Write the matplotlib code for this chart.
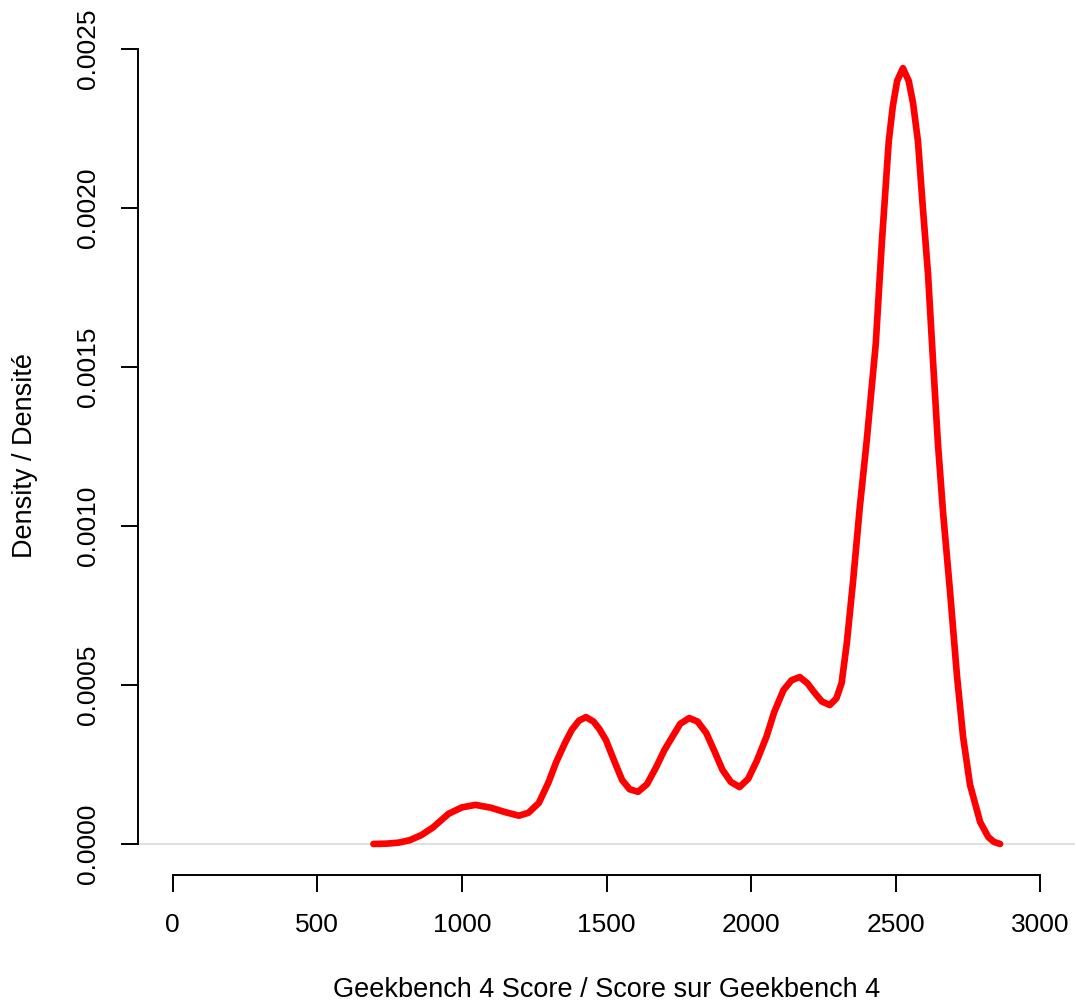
import numpy as np
import matplotlib.pyplot as plt

plt.rcParams["font.family"] = ["Liberation Sans", "DejaVu Sans"]

# density curve (score, density)
score = [694, 740, 780, 820, 860, 900, 954, 1000, 1047, 1100, 1150, 1197, 1230,
         1266, 1300, 1325, 1355, 1380, 1405, 1429, 1455, 1475, 1498, 1525, 1554,
         1580, 1609, 1640, 1672, 1700, 1727, 1755, 1786, 1815, 1845, 1875, 1901,
         1930, 1960, 1990, 2020, 2053, 2080, 2112, 2140, 2168, 2195, 2220, 2245,
         2272, 2295, 2313, 2331, 2352, 2376, 2400, 2431, 2452, 2476, 2490, 2505,
         2525, 2545, 2560, 2577, 2594, 2612, 2629, 2646, 2664, 2688, 2712, 2733,
         2757, 2792, 2820, 2840, 2861]
density = [0.0, 0.000001, 0.000004, 0.000012, 0.000028, 0.000052, 0.000095,
           0.000115, 0.000123, 0.000114, 0.0001, 0.000089, 0.000098,
           0.000129, 0.000195, 0.000255, 0.000315, 0.000359, 0.000388, 0.000399,
           0.000385, 0.000362, 0.000327, 0.000265, 0.000201,
           0.000172, 0.000164, 0.000188, 0.000242, 0.000295, 0.000336, 0.000378,
           0.000396, 0.000385, 0.000349, 0.000288, 0.000233,
           0.000195, 0.000179, 0.000205, 0.000262, 0.000337, 0.000415, 0.000484,
           0.000515, 0.000525, 0.000505, 0.000475, 0.000448,
           0.000437, 0.000458, 0.000506, 0.000632, 0.000821, 0.00106, 0.00127,
           0.001572, 0.00189, 0.00221, 0.00232, 0.00240,
           0.00244, 0.00240, 0.00233, 0.00221, 0.0020, 0.00179, 0.00152, 0.00126,
           0.00104, 0.000793, 0.000528, 0.000337,
           0.000186, 0.000069, 0.000022, 0.0000063, 0.0]

x_ticks = [0, 500, 1000, 1500, 2000, 2500, 3000]
y_ticks = [0.0, 0.0005, 0.0010, 0.0015, 0.0020, 0.0025]
y_tick_labels = ["0.0000", "0.0005", "0.0010", "0.0015", "0.0020", "0.0025"]

W, H = 1076, 1007
fig = plt.figure(figsize=(W / 100, H / 100), dpi=100)
ax = fig.add_axes([138 / W, (H - 875) / H, (1075 - 138) / W, (875 - 37) / H])

ax.axhline(0, color="#d9d9d9", linewidth=1.2, zorder=1)
ax.plot(score, density, color="#ff0000", linewidth=4.8, solid_capstyle="round",
        solid_joinstyle="round", zorder=3)

ax.set_xlim(-120, 3120)
ax.set_ylim(-0.0000976, 0.002538)

for side in ["top", "right"]:
    ax.spines[side].set_visible(False)
ax.spines["bottom"].set_bounds(0, 3000)
ax.spines["left"].set_bounds(0, 0.0025)
for side in ["bottom", "left"]:
    ax.spines[side].set_linewidth(1.4)

ax.set_xticks(x_ticks)
ax.set_xticklabels([str(t) for t in x_ticks])
ax.set_yticks(y_ticks)
ax.set_yticklabels(y_tick_labels, rotation=90, va="center")
ax.tick_params(axis="both", length=12, width=1.4, pad=15, labelsize=19,
               direction="out")

ax.set_xlabel("Geekbench 4 Score / Score sur Geekbench 4", fontsize=19.5)
ax.xaxis.set_label_coords(0.5, -0.137)
ax.xaxis.label.set_va("center")
ax.set_ylabel("Density / Densité", fontsize=19.5)
ax.yaxis.set_label_coords(-0.1206, 0.5)
ax.yaxis.label.set_va("center")

fig.savefig("out.png", dpi=100)
plt.close(fig)
